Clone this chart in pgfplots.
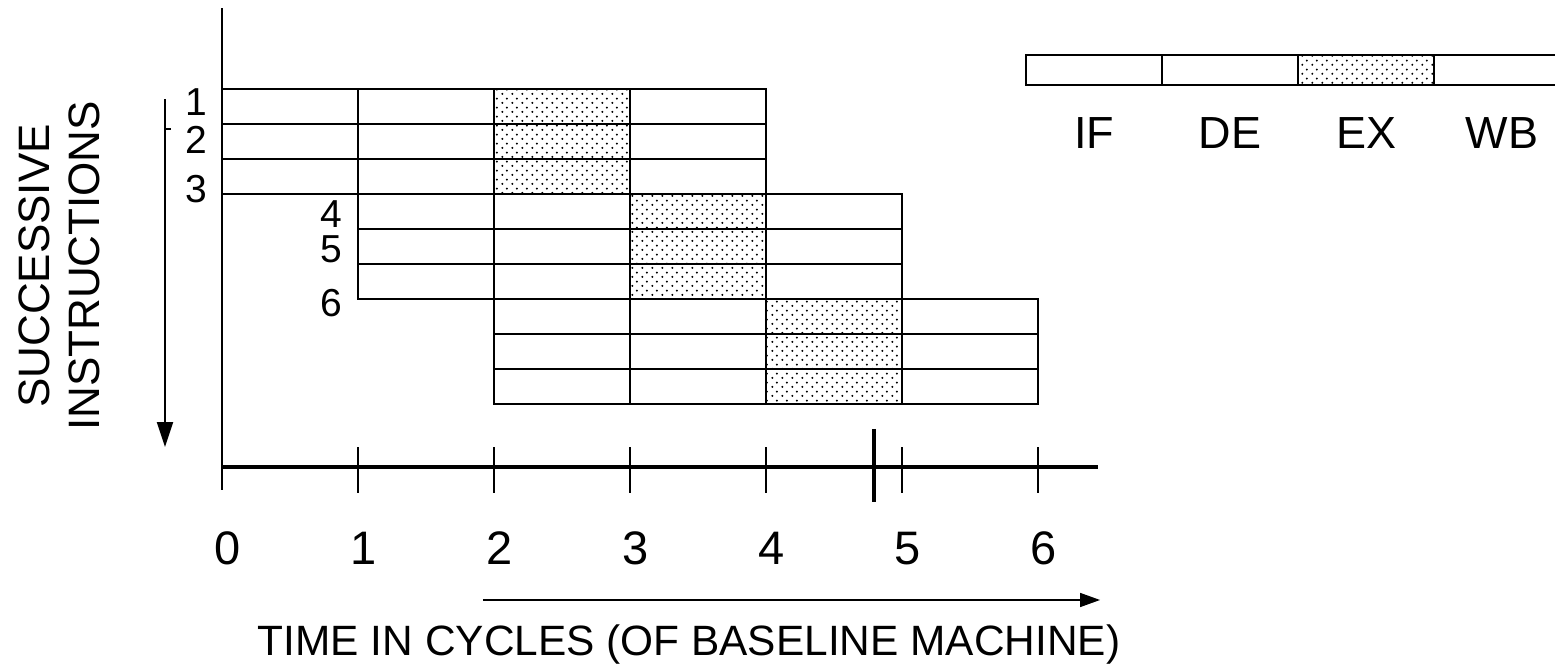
\documentclass[border=0pt]{standalone}
\usepackage{pgfplots}
\pgfplotsset{compat=1.18}
\usepackage{fontspec}
\setmainfont{Liberation Sans}
\usetikzlibrary{patterns,arrows.meta}

% sparse staggered dots for the EX stage
\pgfdeclarepatternformonly{sparsedots}{\pgfqpoint{0bp}{0bp}}{\pgfqpoint{5bp}{4.6bp}}{\pgfqpoint{5bp}{4.6bp}}{%
  \pgfpathcircle{\pgfqpoint{1.25bp}{1.15bp}}{0.6bp}%
  \pgfpathcircle{\pgfqpoint{3.75bp}{3.45bp}}{0.6bp}%
  \pgfusepath{fill}}

\begin{document}
\begin{tikzpicture}[every node/.style={inner sep=0pt}]
\useasboundingbox (0,0) rectangle (777.5bp,332bp);
\begin{axis}[
    scale only axis,
    width=777.5bp, height=332bp,
    xmin=-1.632, xmax=9.801,
    ymin=-2.543, ymax=16.429,
    y dir=reverse,
    hide axis,
    clip=false,
    unbounded coords=jump,
]
% EX stage shading, one block per group of three instructions
\addplot[draw=none, pattern=sparsedots, pattern color=black] coordinates {(2,0)(3,0)(3,3)(2,3)(2,0)};
\addplot[draw=none, pattern=sparsedots, pattern color=black] coordinates {(3,3)(4,3)(4,6)(3,6)(3,3)};
\addplot[draw=none, pattern=sparsedots, pattern color=black] coordinates {(4,6)(5,6)(5,9)(4,9)(4,6)};

% pipeline boxes: group 1 (instr 1-3)
\addplot[black, line width=0.8bp] coordinates {
  (0,0)(4,0)(4,3)(0,3)(0,0) (nan,nan)
  (0,1)(4,1) (nan,nan)
  (0,2)(4,2) (nan,nan)
  (1,0)(1,3) (nan,nan)
  (2,0)(2,3) (nan,nan)
  (3,0)(3,3)
};
% group 2 (instr 4-6)
\addplot[black, line width=0.8bp] coordinates {
  (1,3)(5,3)(5,6)(1,6)(1,3) (nan,nan)
  (1,4)(5,4) (nan,nan)
  (1,5)(5,5) (nan,nan)
  (2,3)(2,6) (nan,nan)
  (3,3)(3,6) (nan,nan)
  (4,3)(4,6)
};
% group 3
\addplot[black, line width=0.8bp] coordinates {
  (2,6)(6,6)(6,9)(2,9)(2,6) (nan,nan)
  (2,7)(6,7) (nan,nan)
  (2,8)(6,8) (nan,nan)
  (3,6)(3,9) (nan,nan)
  (4,6)(4,9) (nan,nan)
  (5,6)(5,9)
};

% legend strip
\addplot[draw=none, pattern=sparsedots, pattern color=black] coordinates {(7.912,-0.971)(8.912,-0.971)(8.912,-0.114)(7.912,-0.114)(7.912,-0.971)};
\addplot[black, line width=0.8bp] coordinates {
  (9.801,-0.971)(5.912,-0.971)(5.912,-0.114)(9.801,-0.114) (nan,nan)
  (6.912,-0.971)(6.912,-0.114) (nan,nan)
  (7.912,-0.971)(7.912,-0.114) (nan,nan)
  (8.912,-0.971)(8.912,-0.114)
};

% time axis
\addplot[black, line width=1bp] coordinates {(0,-2.314)(0,11.457)};
\addplot[black, line width=2bp] coordinates {(0,10.8)(6.441,10.8)};
\addplot[black, line width=1bp] coordinates {
  (1,10.229)(1,11.543) (nan,nan)
  (2,10.229)(2,11.543) (nan,nan)
  (3,10.229)(3,11.543) (nan,nan)
  (4,10.229)(4,11.543) (nan,nan)
  (5,10.229)(5,11.543) (nan,nan)
  (6,10.229)(6,11.543)
};
\addplot[black, line width=2bp] coordinates {(4.794,9.714)(4.794,11.8)};

% arrows
\addplot[black, line width=1bp, -{Triangle[length=12.5bp,width=8bp]}] coordinates {(-0.419,0.286)(-0.419,10.229)};
\addplot[black, line width=0.9bp] coordinates {(-0.419,1.143)(-0.375,1.143)};
\addplot[black, line width=0.75bp, -{Triangle[length=10bp,width=7bp]}] coordinates {(1.919,14.6)(6.456,14.6)};

% instruction numbers
\node[anchor=base east, font=\fontsize{19.5bp}{22bp}\selectfont] at (axis cs:-0.103,0.743) {1};
\node[anchor=base east, font=\fontsize{19.5bp}{22bp}\selectfont] at (axis cs:-0.103,1.829) {2};
\node[anchor=base east, font=\fontsize{19.5bp}{22bp}\selectfont] at (axis cs:-0.103,3.229) {3};
\node[anchor=base east, font=\fontsize{19.5bp}{22bp}\selectfont] at (axis cs:0.890,3.943) {4};
\node[anchor=base east, font=\fontsize{19.5bp}{22bp}\selectfont] at (axis cs:0.890,4.971) {5};
\node[anchor=base east, font=\fontsize{19.5bp}{22bp}\selectfont] at (axis cs:0.890,6.514) {6};

% cycle numbers
\foreach \i in {0,...,6} {
  \edef\tmp{\noexpand\node[anchor=base, font=\noexpand\fontsize{23.5bp}{26bp}\noexpand\selectfont] at (axis cs:\i+0.04,13.6) {\i};}
  \tmp
}

% legend labels
\node[anchor=base, font=\fontsize{22.5bp}{25bp}\selectfont] at (axis cs:6.412,1.714) {IF};
\node[anchor=base, font=\fontsize{22.5bp}{25bp}\selectfont] at (axis cs:7.412,1.714) {DE};
\node[anchor=base, font=\fontsize{22.5bp}{25bp}\selectfont] at (axis cs:8.412,1.714) {EX};
\node[anchor=base, font=\fontsize{22.5bp}{25bp}\selectfont] at (axis cs:9.412,1.714) {WB};

% axis titles
\node[anchor=base, font=\fontsize{21.2bp}{24bp}\selectfont] at (axis cs:3.434,16.2) {TIME IN CYCLES (OF BASELINE MACHINE)};
\node[anchor=base, rotate=90, font=\fontsize{22bp}{25bp}\selectfont] at (axis cs:-1.265,5.057) {SUCCESSIVE};
\node[anchor=base, rotate=90, font=\fontsize{22bp}{25bp}\selectfont] at (axis cs:-0.897,5.057) {INSTRUCTIONS};
\end{axis}
\end{tikzpicture}
\end{document}
